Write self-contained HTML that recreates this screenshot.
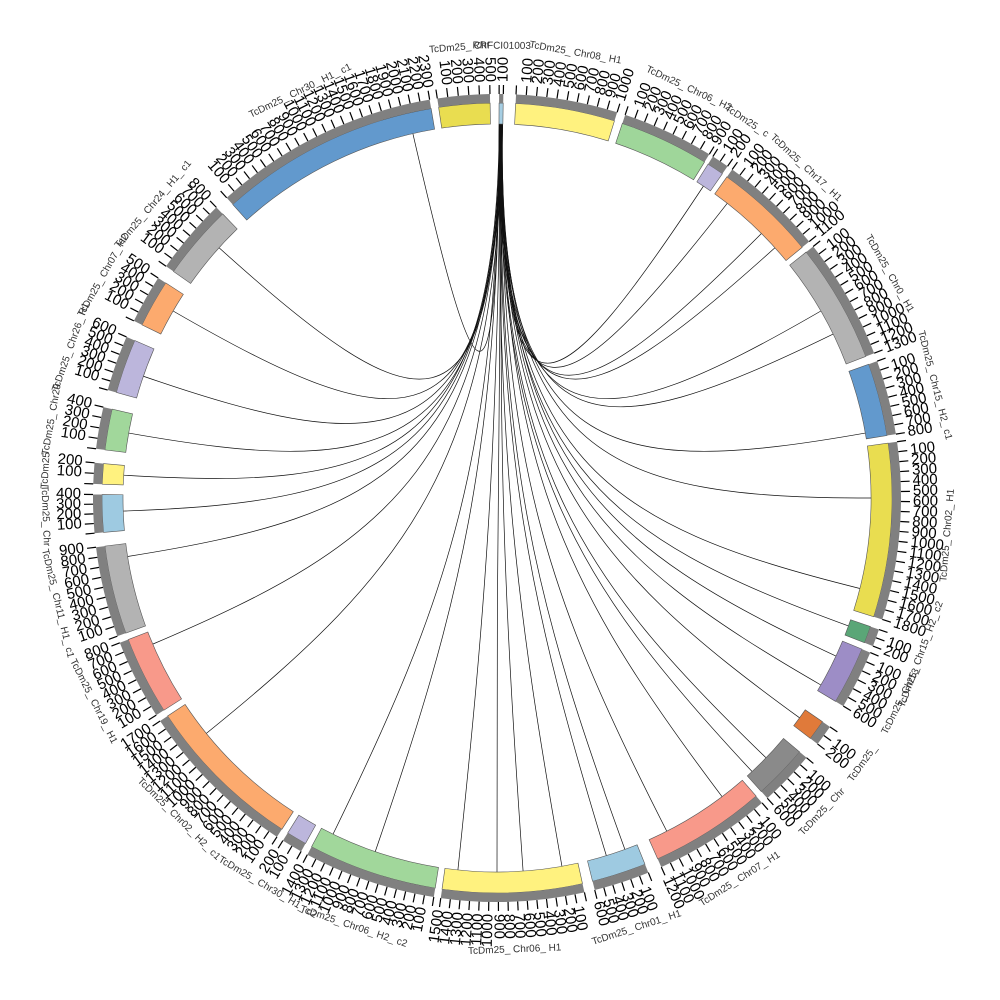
<!DOCTYPE html>
<html><head><meta charset="utf-8"><style>
html,body{margin:0;padding:0;background:#fff;width:1000px;height:1000px;overflow:hidden}
svg{display:block}
text{font-family:"Liberation Sans",sans-serif}
</style></head><body>
<svg id="s" width="1000" height="1000" xmlns="http://www.w3.org/2000/svg"></svg>
<script>
const cx=497,cy=498,R0=374,R1=395,RG=404;
const segs=[
[0.3,0.9,"#a6cee3","RRFCI01003"],
[2.7,17.3,"#fff27f","TcDm25_Chr08_H1"],
[18.5,31.7,"#9fd69a","TcDm25_Chr06_H2"],
[32.3,34.8,"#bcb6dc","TcDm25_c"],
[35.6,50.6,"#fcaa6e","TcDm25_Chr17_H1"],
[51.5,69,"#b3b3b3","TcDm25_Chr0_H1"],
[70.2,80.9,"#6299cd","TcDm25_Chr15_H2_c1"],
[82,107.5,"#e9dd50","TcDm25_Chr02_H1"],
[109,111.5,"#5aa677","TcDm25_Chr15_H2_c2"],
[112.5,121,"#9d8dc6","TcDm25_Chr13"],
[124.5,127.5,"#e07a3a","TcDm25_"],
[130,138,"#8a8a8a","TcDm25_Chr"],
[139,156,"#f8998a","TcDm25_Chr07_H1"],
[158,166,"#9ecae1","TcDm25_Chr01_H1"],
[167.5,188,"#fff27f","TcDm25_Chr06_H1"],
[189,208,"#a1d79b","TcDm25_Chr06_H2_c2"],
[209,212,"#bcb6dc","TcDm25_Chr30_H1_c2"],
[213,236.5,"#fcaa6e","TcDm25_Chr02_H2_c1"],
[237.5,249,"#f8998a","TcDm25_Chr19_H1"],
[250,263,"#b3b3b3","TcDm25_Chr11_H1_c1"],
[265,270.5,"#9ecae1","TcDm25_Chr"],
[272,275,"#fff27f","TcDm25"],
[277,283,"#a1d79b","TcDm25_Chr29"],
[285.5,293.5,"#bcb6dc","TcDm25_Chr26_H1"],
[296,303,"#fcaa6e","TcDm25_Chr07_H2"],
[305,316,"#b3b3b3","TcDm25_Chr24_H1_c1"],
[318,350.4,"#6299cd","TcDm25_Chr30_H1_c1"],
[351.5,359,"#e9dd50","TcDm25_Chr"]];
const P=(a,r)=>{const t=a*Math.PI/180;return[cx+r*Math.sin(t),cy-r*Math.cos(t)]};
let h="";
function arc(a1,a2,r1,r2,fill,stroke){
 const [x1,y1]=P(a1,r2),[x2,y2]=P(a2,r2),[x3,y3]=P(a2,r1),[x4,y4]=P(a1,r1);
 const l=(a2-a1)>180?1:0;
 return `<path d="M${x1},${y1}A${r2},${r2} 0 ${l} 1 ${x2},${y2}L${x3},${y3}A${r1},${r1} 0 ${l} 0 ${x4},${y4}Z" fill="${fill}" stroke="${stroke}" stroke-width="0.6"/>`;
}
const targets=[347,312,300,289,280,273.5,268,261,247,231,206,199,186,180,176,170,163,160,153,143,137,134,126,120,115,110,104,90,80,64,60,48,45,38,33.5];
targets.forEach((t,i)=>{
 const s=0.35+(i%5)*0.12;
 const [x1,y1]=P(s,R0),[x2,y2]=P(t,R0);
 const k=0.3;
 const c1x=cx+(x1-cx)*0.1,c1y=cy+(y1-cy)*0.1,c2x=cx+(x2-cx)*k,c2y=cy+(y2-cy)*k;
 h+=`<path d="M${x1},${y1}C${c1x},${c1y} ${c2x},${c2y} ${x2},${y2}" fill="none" stroke="#111" stroke-width="0.7"/>`;
});
segs.forEach(([a1,a2,c,name])=>{
 h+=arc(a1,a2,R0,R1,c,"#555");
 h+=arc(a1,a2,R1,RG,"#808080","none");
 const n=Math.max(1,Math.round((a2-a1)/1.4));
 for(let i=0;i<=n;i++){
  const a=a1+(a2-a1)*i/n;
  const [x1,y1]=P(a,RG),[x2,y2]=P(a,RG+9);
  h+=`<line x1="${x1}" y1="${y1}" x2="${x2}" y2="${y2}" stroke="#000" stroke-width="1.2"/>`;
  if(i>0){
   const [tx,ty]=P(a,RG+12);
   let rot=a-90,anch="start";
   if(a>180){rot=a+90;anch="end";}
   h+=`<text x="${tx}" y="${ty}" font-size="15" fill="#000" text-anchor="${anch}" dominant-baseline="middle" transform="rotate(${rot} ${tx} ${ty})">${i*100}</text>`;
  }
 }
 const m=(a1+a2)/2;
 const [nx,ny]=P(m,452);
 let r=m; if(m>90&&m<270) r=m+180;
 h+=`<text x="${nx}" y="${ny}" font-size="10" fill="#333" text-anchor="middle" dominant-baseline="middle" transform="rotate(${r} ${nx} ${ny})">${name.replace(/_/g,"_ ")}</text>`;
});
document.getElementById("s").innerHTML=h;
</script>
</body></html>
